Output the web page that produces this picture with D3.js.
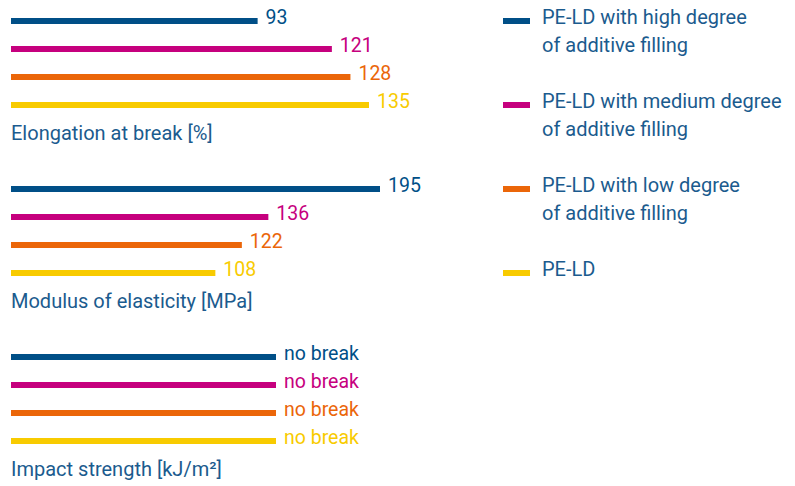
<!DOCTYPE html>
<html>
<head>
<meta charset="utf-8">
<script src="https://cdn.jsdelivr.net/npm/d3@7"></script>
<style>
  body { margin: 0; background: #fff; }
  svg text { font-family: "Roboto", "Noto Sans", sans-serif; }
</style>
</head>
<body>
<svg id="chart" width="795" height="486"></svg>
<script>
// series (one per material)
var series = [
    "PE-LD with high degree|of additive filling",
    "PE-LD with medium degree|of additive filling",
    "PE-LD with low degree|of additive filling",
    "PE-LD"
];
var colors = ["#004f87", "#c6007e", "#eb6609", "#f8cb00"];

// properties
var properties = ["Elongation at break [%]", "Modulus of elasticity [MPa]", "Impact strength [kJ/m²]"];
var elongation = [93, 121, 128, 135];
var modulus = [195, 136, 122, 108];
var impact = ["no break", "no break", "no break", "no break"];

var textColor = "#1b5b8e";

var svg = d3.select("#chart");

var left = 11,
    rowStep = 28,
    groupStep = 168,
    firstRow = 21;

// each group has its own length scale
var groups = [
    {title: properties[0], values: elongation, x: d3.scaleLinear().domain([0, 135]).range([left, 369])},
    {title: properties[1], values: modulus, x: d3.scaleLinear().domain([0, 195]).range([left, 380])},
    // "no break" bars run to the full length
    {title: properties[2], values: impact, x: d3.scaleLinear().domain([0, 1]).range([left, 276])}
];

var y = d3.scaleLinear().domain([0, 1]).range([firstRow, firstRow + rowStep]);

groups.forEach(function(grp, gi) {
    var g = svg.append("g")
        .attr("transform", "translate(0," + (gi * groupStep) + ")");

    var rows = g.selectAll(".row")
        .data(grp.values)
        .enter().append("g")
        .attr("class", "row");

    rows.append("line")
        .attr("x1", grp.x(0))
        .attr("x2", function(d) { return typeof d === "number" ? grp.x(d) : grp.x(1); })
        .attr("y1", function(d, i) { return y(i); })
        .attr("y2", function(d, i) { return y(i); })
        .attr("stroke", function(d, i) { return colors[i]; })
        .attr("stroke-width", 6);

    rows.append("text")
        .attr("x", function(d) { return (typeof d === "number" ? grp.x(d) : grp.x(1)) + 8; })
        .attr("y", function(d, i) { return y(i) + 3; })
        .attr("font-size", 19.5)
        .attr("fill", function(d, i) { return colors[i]; })
        .text(function(d) { return d; });

    g.append("text")
        .attr("x", left)
        .attr("y", y(3) + 35)
        .attr("font-size", 20)
        .attr("fill", textColor)
        .text(grp.title);
});

// legend
var legend = svg.selectAll(".legend")
    .data(series)
    .enter().append("g")
    .attr("class", "legend")
    .attr("transform", function(d, i) { return "translate(503," + (21 + i * 84) + ")"; });

legend.append("line")
    .attr("x1", 0)
    .attr("x2", 27)
    .attr("stroke", function(d, i) { return colors[i]; })
    .attr("stroke-width", 6);

legend.append("text")
    .attr("x", 39)
    .attr("y", 3)
    .attr("font-size", 20)
    .attr("fill", textColor)
    .selectAll("tspan")
    .data(function(d) { return d.split("|"); })
    .enter().append("tspan")
    .attr("x", 39)
    .attr("dy", function(d, i) { return i === 0 ? 0 : 28; })
    .text(function(d) { return d; });
</script>
</body>
</html>
